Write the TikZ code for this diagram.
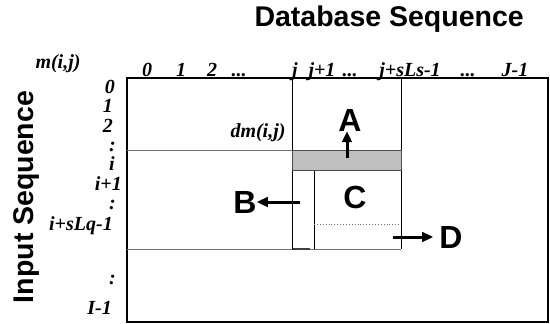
\documentclass[tikz,border=0pt]{standalone}
\usepackage{fontspec}
\setmainfont{Liberation Serif}
\newfontfamily\hv{Liberation Sans}
\usetikzlibrary{arrows.meta}
\begin{document}
\begin{tikzpicture}[x=1pt,y=-1pt,
  lbl/.style={font=\fontsize{20}{20}\selectfont\bfseries\itshape, inner sep=0pt},
  big/.style={font=\fontsize{28.5}{28.5}\selectfont\hv\bfseries, inner sep=0pt},
  letter/.style={font=\fontsize{32}{32}\selectfont\hv\bfseries, inner sep=0pt},
  thin/.style={line width=0.8pt},
  grayline/.style={line width=0.9pt, draw=black!55},
  fat/.style={line width=3pt, -{Triangle[length=11pt,width=9.5pt]}}]
\useasboundingbox (0,0) rectangle (550,324);
% outer frame
\draw[line width=1.4pt] (127,78) rectangle (548,322);
% horizontal lines
\draw[grayline] (127,150) -- (292,150);
\draw[grayline] (127,249) -- (401,249);
\draw[line width=1.2pt, black!75] (292,249) -- (310,249);
% vertical lines
\draw[thin] (292,78) -- (292,249);
\draw[thin] (401,78) -- (401,249);
\draw[thin] (314,170) -- (314,249);
% gray box
\draw[fill=black!25, draw=black!70, line width=0.9pt] (292,150) rectangle (401,170);
% dotted
\draw[black!55, line width=0.9pt, dotted] (314,224) -- (401,224);
% titles
\node[big, anchor=base east] (title) at (524,27) {Database Sequence};
\node[big, rotate=90, anchor=base] (inseq) at (33,197) {Input Sequence};
% column labels
\node[lbl, anchor=base] (mij) at (58,68) {m(i,j)};
\node[lbl, anchor=base] (c0) at (147,76) {0};
\node[lbl, anchor=base] (c1) at (181,76) {1};
\node[lbl, anchor=base] (c2) at (212,76) {2};
\node[lbl, anchor=base] (cd1) at (239,76) {...};
\node[lbl, anchor=base] (cj) at (295,76) {j};
\node[lbl, anchor=base] (cj1) at (322,76) {j+1};
\node[lbl, anchor=base] (cd2) at (350,76) {...};
\node[lbl, anchor=base] (cjs) at (410,76) {j+sLs-1};
\node[lbl, anchor=base] (cd3) at (468,76) {...};
\node[lbl, anchor=base] (cJ) at (515,76) {J-1};
% row labels
\node[lbl, anchor=east] (r0) at (115,87) {0};
\node[lbl, anchor=east] (r1) at (113,106) {1};
\node[lbl, anchor=east] (r2) at (113,126) {2};
\node[lbl, anchor=east] (rd1) at (116,147) {:};
\node[lbl, anchor=east] (ri) at (115,164) {i};
\node[lbl, anchor=east] (ri1) at (122,184) {i+1};
\node[lbl, anchor=east] (rd2) at (116,205) {:};
\node[lbl, anchor=east] (riq) at (113,226) {i+sLq-1};
\node[lbl, anchor=east] (rd3) at (116,280) {:};
\node[lbl, anchor=east] (rI) at (112,308) {I-1};
% dm
\node[lbl, anchor=base] (dm) at (258,137) {dm(i,j)};
% letters
\node[letter] (A) at (350,120) {A};
\node[letter] (B) at (245,202) {B};
\node[letter] (C) at (355,197) {C};
\node[letter] (D) at (451,237) {D};
% arrows
\coordinate (a0) at (347,158);
\coordinate (b0) at (300,202);
\coordinate (d0) at (393,237);
\draw[fat] (a0) -- (A.south -| a0);
\draw[fat] (b0) -- (B.east);
\draw[fat, shorten >=6pt] (d0) -- (D.west);
\end{tikzpicture}
\end{document}
